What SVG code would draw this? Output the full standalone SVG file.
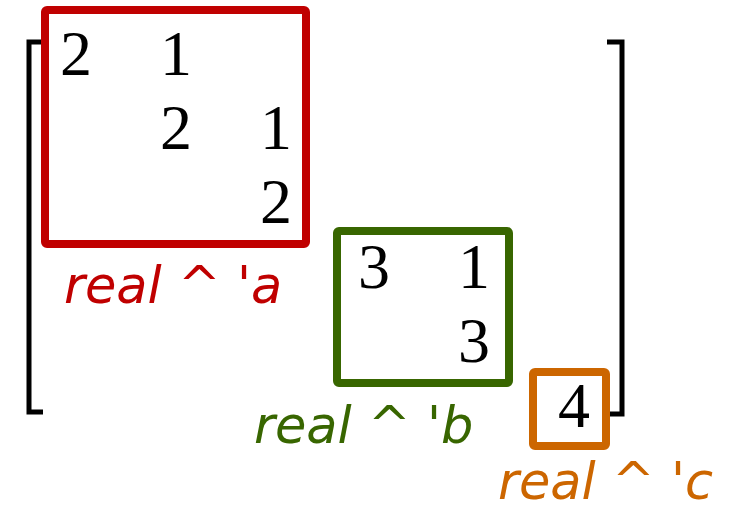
<svg xmlns="http://www.w3.org/2000/svg" width="736" height="506" viewBox="0 0 736 506">
<style>
.num{font-family:"Liberation Serif","DejaVu Serif",serif;font-size:64px;fill:#000;text-anchor:middle}
.lbl{font-family:"DejaVu Sans",sans-serif;font-style:italic;font-size:51px}
.box{fill:none;stroke-width:8;stroke-linejoin:round}
.br{fill:none;stroke:#000;stroke-width:5}
</style>
<rect width="736" height="506" fill="#fff"/>
<g id="brackets">
<path class="br" d="M43,42 H29 V412 H43"/>
<path class="br" d="M607,42 H622 V414 H607"/>
</g>
<g id="block-a">
<rect class="box" x="45" y="10" width="261" height="234" rx="2" stroke="#c00000"/>
<text class="num" x="76" y="75">2</text>
<text class="num" x="176" y="75">1</text>
<text class="num" x="176" y="149">2</text>
<text class="num" x="276" y="149">1</text>
<text class="num" x="276" y="223">2</text>
<text class="lbl" x="64" y="303" fill="#c00000">real ^ 'a</text>
</g>
<g id="block-b">
<rect class="box" x="337" y="231" width="172" height="152" rx="2" stroke="#386600"/>
<text class="num" x="374" y="288">3</text>
<text class="num" x="474" y="288">1</text>
<text class="num" x="474" y="362">3</text>
<text class="lbl" x="254" y="443" fill="#386600">real ^ 'b</text>
</g>
<g id="block-c">
<rect class="box" x="533" y="372" width="73" height="74" rx="2" stroke="#cc6600"/>
<text class="num" x="574" y="427">4</text>
<text class="lbl" x="498" y="499" fill="#cc6600">real ^ 'c</text>
</g>
</svg>
